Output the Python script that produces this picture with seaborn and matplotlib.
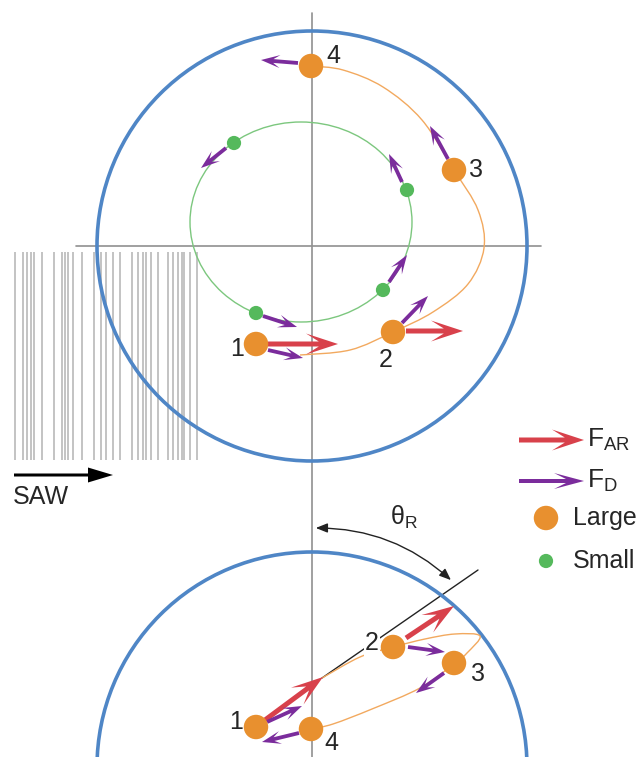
import numpy as np
import pandas as pd
import matplotlib.pyplot as plt
from matplotlib.path import Path
from matplotlib.patches import PathPatch, Circle, Ellipse, FancyArrowPatch
import seaborn as sns

sns.set_style("white")
plt.rcParams['font.family'] = ['Liberation Sans', 'DejaVu Sans']
plt.rcParams['mathtext.fontset'] = 'custom'
plt.rcParams['mathtext.rm'] = 'Liberation Sans'
plt.rcParams['mathtext.it'] = 'Liberation Sans:italic'

# --- diagram data (pixel coordinates, y pointing down) ---
labels = ['1', '2', '3', '4']

# top view: large and small particles on their orbits
large_top_x = [256, 393, 454, 311]
large_top_y = [344, 332, 170, 66]
small_top_x = [234, 407, 383, 256]
small_top_y = [143, 190, 290, 313]
label_top_x = [237, 386, 476, 333]
label_top_y = [349, 360, 170, 56]

# bottom view: large particle on tilted orbit
large_bot_x = [256, 393, 454, 311]
large_bot_y = [727, 647, 663, 729]
label_bot_x = [236, 372, 478, 331]
label_bot_y = [722, 643, 674, 743]

# orbit outlines
orbit_top = [(300, 355), (350, 350), (393, 332), (433, 312), (468, 284), (484, 248),
             (478, 210), (454, 170), (422, 120), (383, 87), (343, 70), (311, 66)]
orbit_bot = [(322, 678), (360, 657), (393, 647), (425, 639), (455, 634), (480, 636),
             (467, 653), (454, 664), (420, 688), (372, 709), (333, 724), (311, 729)]

# forces: (x0, y0, x1, y1)
f_ar = [(268, 344, 338, 344), (406, 331, 463, 331),
        (265, 720, 323, 677), (406, 638, 454, 606)]
f_d = [(298, 63, 261, 60), (448, 159, 430, 126),
       (226, 148, 201, 168), (402, 182, 389, 154),
       (389, 282, 407, 255), (263, 316, 297, 327),
       (268, 350, 303, 358), (402, 323, 428, 296),
       (267, 722, 302, 706), (299, 733, 262, 742),
       (408, 647, 445, 652), (444, 673, 416, 693)]

# SAW transducer fingers
saw_x = [15, 22.7, 26.7, 30.7, 34.3, 42.3, 54.3, 61.7, 65, 68.3, 73.3, 82, 94.3, 101,
         106, 112.7, 120, 131.7, 138.3, 143.3, 146, 150.7, 158.3, 168.3, 173.3,
         177.7, 181.7, 184.3, 190, 196.7]

BLUE = '#4f86c6'
ORANGE = '#e8902f'
GREEN = '#55b95c'
RED = '#d8414b'
PURPLE = '#7b2c9c'


def smooth_path(pts):
    pts = np.asarray(pts, float)
    p = np.vstack([pts[0], pts, pts[-1]])
    verts = [pts[0]]
    codes = [Path.MOVETO]
    for i in range(1, len(p) - 2):
        p0, p1, p2, p3 = p[i - 1], p[i], p[i + 1], p[i + 2]
        verts += [p1 + (p2 - p0) / 6, p2 - (p3 - p1) / 6, p2]
        codes += [Path.CURVE4] * 3
    return Path(verts, codes)


def force(ax, x0, y0, x1, y1, kind):
    if kind == 'ar':
        kw = dict(width=5, head_width=21, head_length=32, overhang=0.4, color=RED)
    elif kind == 'd':
        kw = dict(width=3.8, head_width=13, head_length=19, overhang=0.35, color=PURPLE)
    elif kind == 'dleg':
        kw = dict(width=4, head_width=16, head_length=30, overhang=0.4, color=PURPLE)
    else:
        kw = dict(width=3, head_width=15, head_length=25, overhang=0, color='black')
    ax.arrow(x0, y0, x1 - x0, y1 - y0, length_includes_head=True, lw=0, zorder=5, **kw)


fig = plt.figure(figsize=(6.43, 7.57), dpi=100)
ax = fig.add_axes([0, 0, 1, 1])
ax.set_xlim(0, 643)
ax.set_ylim(757, 0)
ax.axis('off')

# SAW fingers and arrow
ax.vlines(saw_x, 252, 460, color='#b3b3b3', lw=1.1, zorder=1)
force(ax, 14, 475, 113, 475, 'saw')
ax.text(13, 497, 'SAW', fontsize=18, ha='left', va='center')

# reference axes
ax.plot([312, 312], [13, 757], color='#909090', lw=1.2, zorder=2)
ax.plot([76, 541], [246, 246], color='#909090', lw=1.2, zorder=2)

# droplets
ax.add_patch(Circle((312, 246), 215, fill=False, ec=BLUE, lw=2.6, zorder=3))
ax.add_patch(Circle((312, 767), 215, fill=False, ec=BLUE, lw=2.6, zorder=3))

# orbits
ax.add_patch(Ellipse((301, 222), 222, 200, fill=False, ec='#7cc77e', lw=1.0, zorder=3))
ax.add_patch(PathPatch(smooth_path(orbit_top), fill=False, ec='#f2a95f', lw=1.0, zorder=3))
ax.add_patch(PathPatch(smooth_path(orbit_bot), fill=False, ec='#f2a95f', lw=1.0, zorder=3))

# tilt line and theta_R
ax.plot([322, 478], [678, 570], color='#222222', lw=1.0, zorder=2)
ax.add_patch(FancyArrowPatch((453, 582), (313, 528), connectionstyle='arc3,rad=0.2',
                             arrowstyle='<|-|>,head_length=0.5,head_width=0.2',
                             mutation_scale=14, color='#222222', lw=1.0, zorder=4))
ax.text(390, 517, r'$\mathrm{\theta_R}$', fontsize=18, ha='left', va='center')

# forces
for x0, y0, x1, y1 in f_ar:
    force(ax, x0, y0, x1, y1, 'ar')
for x0, y0, x1, y1 in f_d:
    force(ax, x0, y0, x1, y1, 'd')

# particles
large = pd.DataFrame({'x': large_top_x + large_bot_x, 'y': large_top_y + large_bot_y})
small = pd.DataFrame({'x': small_top_x, 'y': small_top_y})
sns.scatterplot(data=large, x='x', y='y', s=310, color=ORANGE, edgecolor='none', ax=ax, zorder=6)
sns.scatterplot(data=small, x='x', y='y', s=105, color=GREEN, edgecolor='none', ax=ax, zorder=6)

for lab, x, y in zip(labels, label_top_x, label_top_y):
    ax.text(x, y, lab, fontsize=18, ha='center', va='center', zorder=7)
for lab, x, y in zip(labels, label_bot_x, label_bot_y):
    ax.text(x, y, lab, fontsize=18, ha='center', va='center', zorder=7,
            bbox=dict(fc='white', ec='none', pad=1) if lab == '2' else None)

# legend
force(ax, 519, 440, 584, 440, 'ar')
force(ax, 519, 481, 584, 481, 'dleg')
ax.text(587, 440, r'$\mathrm{F_{AR}}$', fontsize=19, ha='left', va='center')
ax.text(587, 481, r'$\mathrm{F_{D}}$', fontsize=19, ha='left', va='center')
leg = pd.DataFrame({'x': [546, 546], 'y': [518, 561], 'kind': ['Large', 'Small']})
sns.scatterplot(data=leg, x='x', y='y', hue='kind', size='kind', sizes={'Large': 310, 'Small': 105},
                palette={'Large': ORANGE, 'Small': GREEN}, edgecolor='none', legend=False, ax=ax, zorder=6)
ax.text(573, 518, 'Large', fontsize=18, ha='left', va='center')
ax.text(573, 561, 'Small', fontsize=18, ha='left', va='center')

ax.set_xlim(0, 643)
ax.set_ylim(757, 0)
fig.savefig('out.png', dpi=100)
